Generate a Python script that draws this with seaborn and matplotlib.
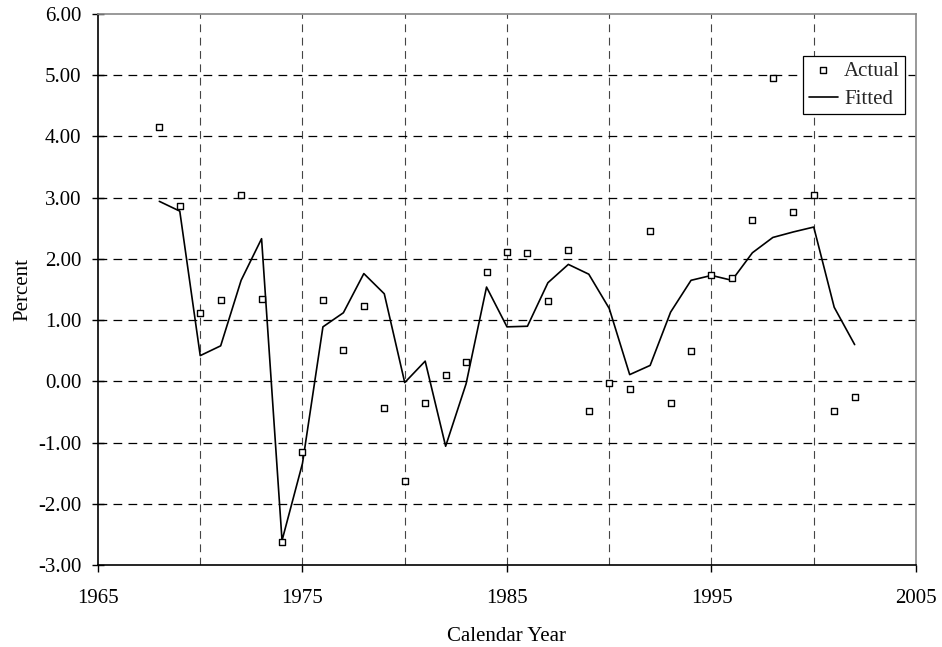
import matplotlib
matplotlib.use("Agg")
from matplotlib import pyplot as plt
import pandas as pd
import seaborn as sns

# data
years = list(range(1968, 2003))
actual = [4.15, 2.86, 1.12, 1.33, 3.04, 1.35, -2.62, -1.16, 1.33, 0.52,
          1.23, -0.44, -1.62, -0.36, 0.11, 0.32, 1.79, 2.11, 2.09, 1.31,
          2.14, -0.48, -0.02, -0.13, 2.46, -0.36, 0.50, 1.73, 1.69, 2.63,
          4.95, 2.77, 3.05, -0.49, -0.25]
fitted = [2.94, 2.78, 0.42, 0.58, 1.65, 2.33, -2.60, -1.34, 0.89, 1.12,
          1.76, 1.43, -0.02, 0.33, -1.06, -0.04, 1.54, 0.89, 0.90, 1.61,
          1.91, 1.75, 1.19, 0.11, 0.26, 1.13, 1.65, 1.73, 1.65, 2.10,
          2.35, 2.44, 2.52, 1.21, 0.60]
xticks = [1965, 1975, 1985, 1995, 2005]
xgrid = [1970, 1975, 1980, 1985, 1990, 1995, 2000]
yticks = [-3, -2, -1, 0, 1, 2, 3, 4, 5, 6]

df = pd.DataFrame({"Year": years, "Actual": actual, "Fitted": fitted})

sns.set_theme(style="white")
plt.rcParams["font.family"] = ["Liberation Serif", "DejaVu Serif"]
fs = 15

fig = plt.figure(figsize=(9.42, 6.47), dpi=100)
ax = fig.add_axes([0.104, 0.1267, 0.8684, 0.8517])

sns.lineplot(data=df, x="Year", y="Fitted", ax=ax, color="black", linewidth=1.2,
             label="Fitted", zorder=3)
sns.scatterplot(data=df, x="Year", y="Actual", ax=ax, marker="s", s=24,
                facecolor="white", edgecolor="black", linewidth=1.0,
                label="Actual", zorder=4)

ax.set_xlim(1965, 2005)
ax.set_ylim(-3, 6)
ax.set_xticks(xticks)
ax.set_yticks(yticks)
ax.set_yticklabels(["%.2f" % v for v in yticks])

ax.grid(False)
for x in xgrid:
    ax.axvline(x, color="#444444", linewidth=0.8, dashes=(7, 5), zorder=1)
for y in yticks[1:-1]:
    ax.axhline(y, color="black", linewidth=0.9, dashes=(7, 5), zorder=1)

ax.tick_params(axis="both", which="major", bottom=True, left=True,
               width=1, color="black", labelsize=fs, labelcolor="black")
ax.tick_params(axis="y", direction="inout", length=8, pad=8)
ax.tick_params(axis="x", direction="out", length=5, pad=12)

for side in ["left", "bottom"]:
    ax.spines[side].set_color("black")
    ax.spines[side].set_linewidth(1.2)
for side in ["top", "right"]:
    ax.spines[side].set_color("#888888")
    ax.spines[side].set_linewidth(1.2)

ax.set_xlabel("Calendar Year", fontsize=fs, labelpad=14, color="black")
ax.set_ylabel("Percent", fontsize=fs, labelpad=4, color="black")

handles, labels = ax.get_legend_handles_labels()
order = [labels.index("Actual"), labels.index("Fitted")]
leg = ax.legend([handles[i] for i in order], [labels[i] for i in order],
                loc="upper right", bbox_to_anchor=(0.9866, 0.9238), frameon=True,
                fancybox=False, edgecolor="black", framealpha=1, fontsize=fs,
                handlelength=1.4, handletextpad=0.3, borderpad=0.25,
                labelspacing=0.42, borderaxespad=0)
leg.get_frame().set_linewidth(0.9)

fig.savefig("out.png", dpi=100)
